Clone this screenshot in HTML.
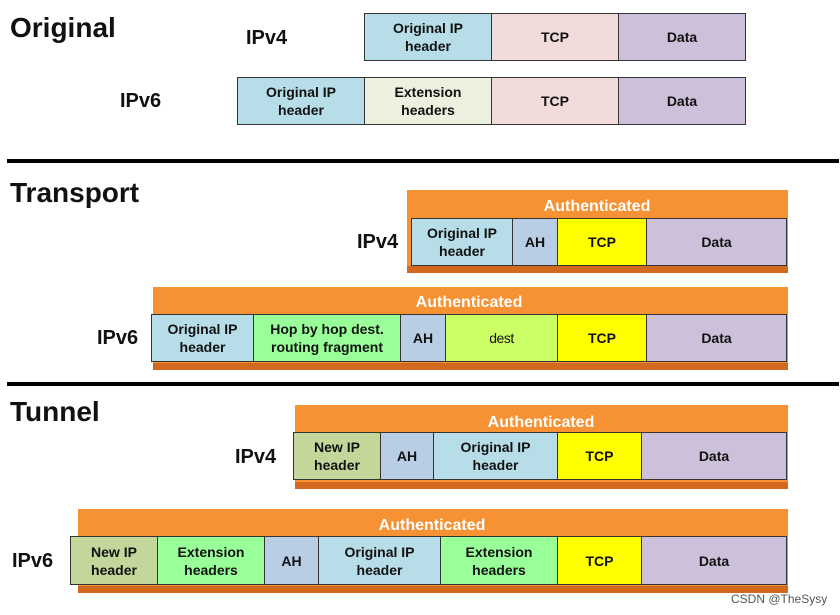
<!DOCTYPE html>
<html><head><meta charset="utf-8"><style>
body{margin:0;width:840px;height:615px;background:#fff;position:relative;overflow:hidden;font-family:"Liberation Sans",sans-serif}
.a{position:absolute}
.t{position:absolute;font-weight:bold;color:#111;white-space:nowrap}
.c{position:absolute;box-sizing:border-box;border:1.5px solid #333;display:flex;align-items:center;justify-content:center;text-align:center;font-weight:bold;font-size:14px;line-height:18px;color:#111}
.o{position:absolute;background:#f79234;border-bottom:7px solid #d2691e;box-sizing:border-box}
.au{position:absolute;color:#fff;font-weight:bold;font-size:16px;transform:translateX(-50%);white-space:nowrap}
.b{background:#b7dde8}.e{background:#ebf1de}.p{background:#f2dcdb}.d{background:#ccc0da}.h{background:#b9cde5}.g{background:#99ff99}.l{background:#ccff66}.y{background:#ffff00}.n{background:#c4d79b}
</style></head><body>
<div class="t" style="left:10px;top:12px;font-size:28px">Original</div>
<div class="t" style="left:246px;top:27px;font-size:20px">IPv4</div>
<div class="t" style="left:120px;top:90px;font-size:20px">IPv6</div>
<div class="c b" style="left:364px;top:13px;width:128px;height:48px">Original IP<br>header</div>
<div class="c p" style="left:491px;top:13px;width:128px;height:48px">TCP</div>
<div class="c d" style="left:618px;top:13px;width:128px;height:48px">Data</div>
<div class="c b" style="left:237px;top:77px;width:128px;height:48px">Original IP<br>header</div>
<div class="c e" style="left:364px;top:77px;width:128px;height:48px">Extension<br>headers</div>
<div class="c p" style="left:491px;top:77px;width:128px;height:48px">TCP</div>
<div class="c d" style="left:618px;top:77px;width:128px;height:48px">Data</div>
<div class="a" style="left:7px;top:159px;width:832px;height:4px;background:#000"></div>

<div class="t" style="left:10px;top:177px;font-size:28px">Transport</div>
<div class="t" style="left:357px;top:231px;font-size:20px">IPv4</div>
<div class="o" style="left:407px;top:190px;width:381px;height:83px"></div>
<div class="au" style="left:597px;top:198px">Authenticated</div>
<div class="c b" style="left:411px;top:218px;width:102px;height:48px">Original IP<br>header</div>
<div class="c h" style="left:512px;top:218px;width:46px;height:48px">AH</div>
<div class="c y" style="left:557px;top:218px;width:90px;height:48px">TCP</div>
<div class="c d" style="left:646px;top:218px;width:141px;height:48px">Data</div>

<div class="t" style="left:97px;top:327px;font-size:20px">IPv6</div>
<div class="o" style="left:153px;top:287px;width:635px;height:83px"></div>
<div class="au" style="left:469px;top:294px">Authenticated</div>
<div class="c b" style="left:151px;top:314px;width:103px;height:48px">Original IP<br>header</div>
<div class="c g" style="left:253px;top:314px;width:148px;height:48px">Hop by hop dest.<br>routing fragment</div>
<div class="c h" style="left:400px;top:314px;width:46px;height:48px">AH</div>
<div class="c l" style="left:445px;top:314px;width:113px;height:48px;font-weight:normal;letter-spacing:-0.5px">dest</div>
<div class="c y" style="left:557px;top:314px;width:90px;height:48px">TCP</div>
<div class="c d" style="left:646px;top:314px;width:141px;height:48px">Data</div>
<div class="a" style="left:7px;top:382px;width:832px;height:4px;background:#000"></div>

<div class="t" style="left:10px;top:396px;font-size:28px">Tunnel</div>
<div class="t" style="left:235px;top:446px;font-size:20px">IPv4</div>
<div class="o" style="left:295px;top:405px;width:493px;height:84px"></div>
<div class="au" style="left:541px;top:414px">Authenticated</div>
<div class="c n" style="left:293px;top:432px;width:88px;height:48px">New IP<br>header</div>
<div class="c h" style="left:380px;top:432px;width:54px;height:48px">AH</div>
<div class="c b" style="left:433px;top:432px;width:125px;height:48px">Original IP<br>header</div>
<div class="c y" style="left:557px;top:432px;width:85px;height:48px">TCP</div>
<div class="c d" style="left:641px;top:432px;width:146px;height:48px">Data</div>

<div class="t" style="left:12px;top:550px;font-size:20px">IPv6</div>
<div class="o" style="left:78px;top:509px;width:710px;height:84px"></div>
<div class="au" style="left:432px;top:517px">Authenticated</div>
<div class="c n" style="left:70px;top:536px;width:88px;height:49px">New IP<br>header</div>
<div class="c g" style="left:157px;top:536px;width:108px;height:49px">Extension<br>headers</div>
<div class="c h" style="left:264px;top:536px;width:55px;height:49px">AH</div>
<div class="c b" style="left:318px;top:536px;width:123px;height:49px">Original IP<br>header</div>
<div class="c g" style="left:440px;top:536px;width:118px;height:49px">Extension<br>headers</div>
<div class="c y" style="left:557px;top:536px;width:85px;height:49px">TCP</div>
<div class="c d" style="left:641px;top:536px;width:146px;height:49px">Data</div>
<div class="a" style="left:731px;top:592px;font-size:12px;color:#555">CSDN @TheSysy</div>
</body></html>
